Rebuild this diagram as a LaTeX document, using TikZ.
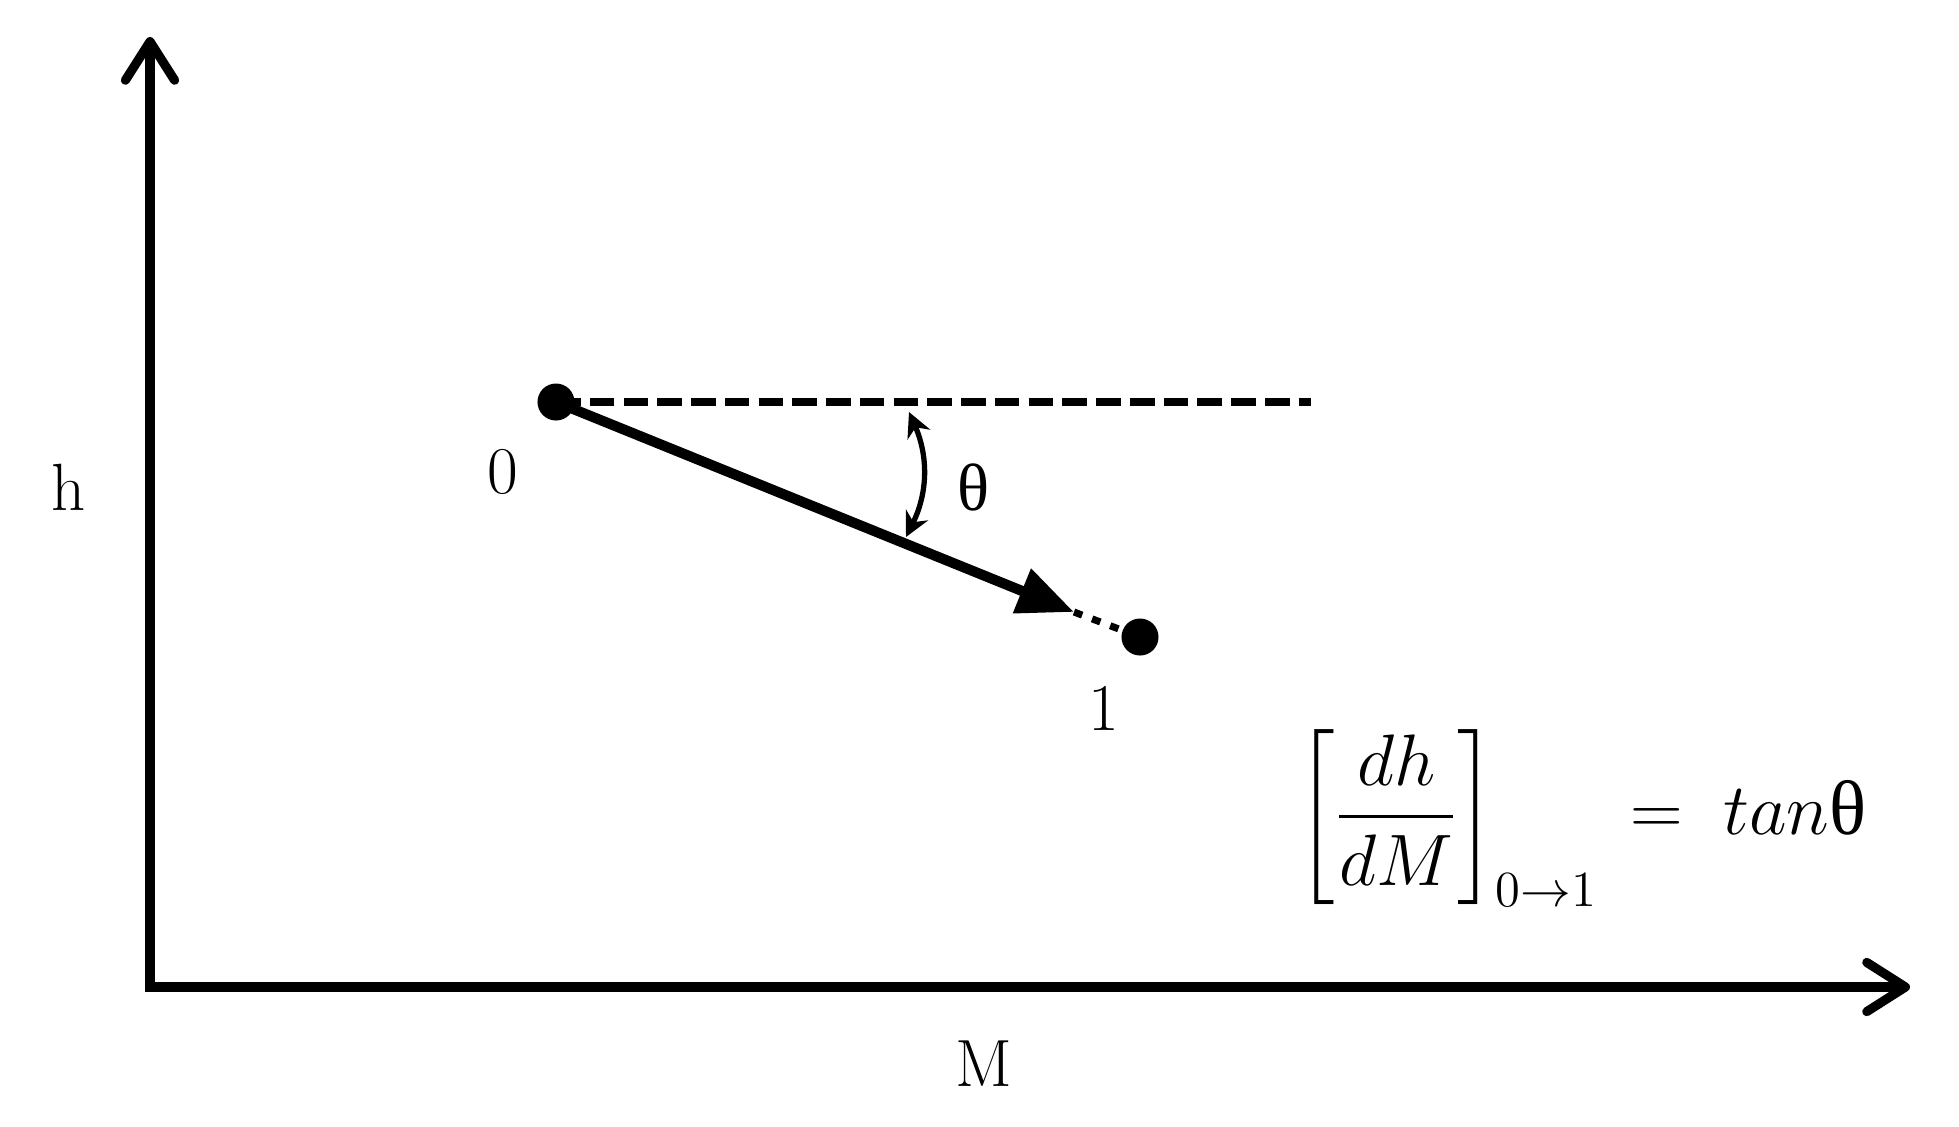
\documentclass[tikz,border=0pt]{standalone}
\usepackage{fontspec}
\usepackage{amsmath}
\usetikzlibrary{arrows.meta}
\newfontfamily\grk{Liberation Serif}
\tikzset{axtip/.tip={Straight Barb[length=11pt,width=14pt,round]}}
\begin{document}
\begin{tikzpicture}[x=0.01cm,y=-0.01cm,
  axis/.style={line width=2.6pt, line join=miter, axtip-axtip},
  dot/.style={circle,fill=black,inner sep=0pt,minimum size=0.37cm},
  lbl/.style={font=\fontsize{19}{23}\selectfont, inner sep=0pt},
  mainarrow/.style={line width=2.9pt, -{Triangle[length=16pt,width=13pt]}},
  refline/.style={line width=2.4pt, dash pattern=on 7pt off 2.6pt},
  dotline/.style={line width=2pt, dash pattern=on 2.5pt off 3pt},
  anglearc/.style={line width=1.5pt, {Stealth[length=7pt,width=7pt]}-{Stealth[length=7pt,width=7pt]}},
]
\useasboundingbox (0,0) rectangle (1959,1126);
\coordinate (O) at (150,987);
\coordinate (ytop) at (150,37);
\coordinate (xend) at (1910,987);
\draw[axis] (ytop) -- (O) -- (xend);

\node[dot] (p0) at (556,402) {};
\node[dot] (p1) at (1140,637) {};
\coordinate (tip) at (1074,612);
\coordinate (dend) at (1311,402);

\draw[refline] (p0.center) -- (dend);
\draw[mainarrow] (p0.center) -- (tip);
\draw[dotline] (tip) -- (p1);

\coordinate (a1) at (909,412);
\coordinate (a2) at (906,537);
\draw[anglearc] (a1) to[bend left=25] (a2);

\node[lbl] (l0) at (503,472) {0};
\node[lbl] (l1) at (1104,708) {1};
\node[lbl] (lh) at (69,487) {h};
\node[lbl] (lM) at (984,1064) {M};
\node[lbl] (lth) at (973,487) {\grk θ};

\node[anchor=west, inner sep=0pt, font=\fontsize{22}{26}\selectfont] (eq) at (1296,818)
  {$\displaystyle\left[\frac{dh}{dM}\right]_{0\to1}\,=\;tan\mbox{\grk θ}$};
\end{tikzpicture}
\end{document}
